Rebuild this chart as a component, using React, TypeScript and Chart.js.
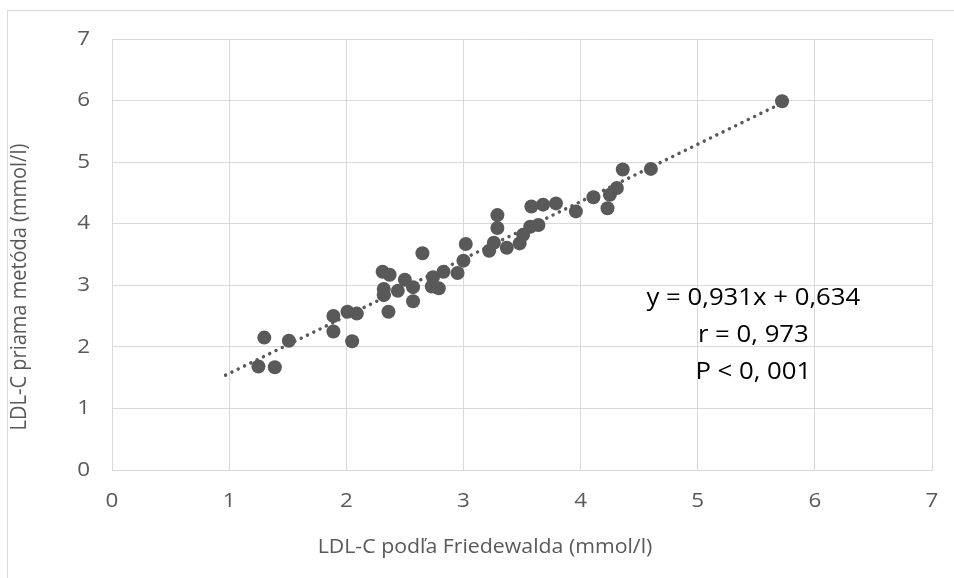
import React, { useEffect, useRef } from "react";
import { Chart, registerables } from "chart.js";

Chart.register(...registerables);

// LDL-C by Friedewald (x) vs direct method (y), mmol/l
const xValues = [
  5.72, 4.6, 4.36, 4.31, 4.25, 4.23, 4.11, 3.96, 3.79, 3.68, 3.58, 3.64, 3.57, 3.51, 3.48, 3.37,
  3.29, 3.29, 3.26, 3.22, 3.02, 3.0, 2.95, 2.83, 2.79, 2.73, 2.74, 2.65, 2.57, 2.57, 2.5, 2.44,
  2.37, 2.31, 2.32, 2.32, 2.36, 2.09, 2.01, 1.89, 1.89, 2.05, 1.51, 1.3, 1.25, 1.39,
];
const yValues = [
  5.99, 4.89, 4.88, 4.58, 4.47, 4.25, 4.43, 4.2, 4.33, 4.31, 4.28, 3.98, 3.95, 3.82, 3.68, 3.61,
  4.14, 3.93, 3.69, 3.56, 3.67, 3.4, 3.2, 3.22, 2.95, 2.98, 3.13, 3.52, 2.97, 2.74, 3.09, 2.91,
  3.17, 3.22, 2.84, 2.94, 2.57, 2.54, 2.57, 2.5, 2.25, 2.09, 2.1, 2.15, 1.68, 1.67,
];

// Linear trendline endpoints (y = 0,931x + 0,634)
const trendX = [0.97, 5.72];
const trendY = [1.54, 5.96];

const xTickValues = [0, 1, 2, 3, 4, 5, 6, 7];
const yTickValues = [0, 1, 2, 3, 4, 5, 6, 7];
const xTickLabels = ["0", "1", "2", "3", "4", "5", "6", "7"];
const yTickLabels = ["0", "1", "2", "3", "4", "5", "6", "7"];

const xTitle = "LDL-C podľa Friedewalda (mmol/l)";
const yTitle = "LDL-C priama metóda (mmol/l)";

const annotationLines = ["y = 0,931x + 0,634", "r = 0, 973", "P < 0, 001"];
const annotationX = 5.475;
const annotationY = [2.78, 2.18, 1.58];

const FONT = '"Open Sans", "Noto Sans", sans-serif';
const TEXT_GREY = "#595959";
const GRID = "#d9d9d9";
const SX_TICK = 1.12; // horizontal stretch of the original picture's text
const SX_TITLE = 1.065;
const SX_NOTE = 1.12;

function drawText(ctx: any, text: string, x: number, y: number, align: string, sx: number) {
  ctx.save();
  ctx.translate(x, y);
  ctx.scale(sx, 1);
  ctx.textAlign = align;
  ctx.textBaseline = "middle";
  ctx.fillText(text, 0, 0);
  ctx.restore();
}

const framePlugin = {
  id: "frameAndText",
  beforeDraw(chart: any) {
    const ctx = chart.ctx;
    ctx.save();
    ctx.fillStyle = "#ffffff";
    ctx.fillRect(0, 0, chart.width, chart.height);
    ctx.strokeStyle = GRID;
    ctx.lineWidth = 1;
    ctx.strokeRect(7.5, 10.5, chart.width + 10, chart.height + 10);
    ctx.restore();
  },
  afterDraw(chart: any) {
    const ctx = chart.ctx;
    const xs = chart.scales.x;
    const ys = chart.scales.y;
    ctx.save();
    // tick labels
    ctx.fillStyle = TEXT_GREY;
    ctx.font = `20px ${FONT}`;
    xTickValues.forEach((v, i) => {
      drawText(ctx, xTickLabels[i], xs.getPixelForValue(v), 501, "center", SX_TICK);
    });
    yTickValues.forEach((v, i) => {
      drawText(ctx, yTickLabels[i], 90, ys.getPixelForValue(v), "right", SX_TICK);
    });
    // axis titles
    ctx.font = `20px ${FONT}`;
    drawText(ctx, xTitle, 485, 547, "center", SX_TITLE);
    ctx.save();
    ctx.translate(20, 287);
    ctx.scale(SX_TITLE, 1);
    ctx.rotate(-Math.PI / 2);
    ctx.textAlign = "center";
    ctx.textBaseline = "middle";
    ctx.fillText(yTitle, 0, 0);
    ctx.restore();
    // annotation
    ctx.font = `23px ${FONT}`;
    ctx.fillStyle = "#000000";
    const cx = xs.getPixelForValue(annotationX);
    annotationLines.forEach((t, i) => {
      drawText(ctx, t, cx, ys.getPixelForValue(annotationY[i]), "center", SX_NOTE);
    });
    ctx.restore();
  },
};

export default function App() {
  const canvasRef = useRef<HTMLCanvasElement | null>(null);

  useEffect(() => {
    if (!canvasRef.current) return;
    const points = xValues.map((x, i) => ({ x, y: yValues[i] }));
    const trend = trendX.map((x, i) => ({ x, y: trendY[i] }));
    const chart = new Chart(canvasRef.current, {
      type: "scatter",
      data: {
        datasets: [
          {
            label: "data",
            data: points,
            backgroundColor: "#595959",
            borderColor: "#595959",
            borderWidth: 0,
            pointRadius: 7,
            pointHoverRadius: 7,
            order: 2,
          },
          {
            label: "trend",
            data: trend,
            showLine: true,
            pointRadius: 0,
            borderColor: "#595959",
            borderWidth: 3.5,
            borderDash: [0.01, 7],
            borderCapStyle: "round",
            order: 1,
          } as any,
        ],
      },
      options: {
        animation: false,
        responsive: false,
        devicePixelRatio: 1,
        layout: { padding: { left: 0, top: 39, right: 22, bottom: 0 } },
        plugins: {
          legend: { display: false },
          tooltip: { enabled: false },
        },
        scales: {
          x: {
            type: "linear",
            min: 0,
            max: 7,
            afterBuildTicks: (scale: any) => {
              scale.ticks = xTickValues.map((v) => ({ value: v }));
            },
            afterFit: (scale: any) => {
              scale.height = 108;
            },
            ticks: { display: false },
            grid: { color: GRID, lineWidth: 1, drawTicks: false },
            border: { color: GRID, width: 1 },
            title: { display: false },
          },
          y: {
            type: "linear",
            min: 0,
            max: 7,
            afterBuildTicks: (scale: any) => {
              scale.ticks = yTickValues.map((v) => ({ value: v }));
            },
            afterFit: (scale: any) => {
              scale.width = 112;
            },
            ticks: { display: false },
            grid: { color: GRID, lineWidth: 1, drawTicks: false },
            border: { color: GRID, width: 1 },
            title: { display: false },
          },
        },
      },
      plugins: [framePlugin],
    });
    return () => chart.destroy();
  }, []);

  return (
    <div style={{ position: "absolute", left: 0, top: 0, width: 954, height: 578 }}>
      <canvas ref={canvasRef} width={954} height={578} style={{ display: "block" }} />
    </div>
  );
}
